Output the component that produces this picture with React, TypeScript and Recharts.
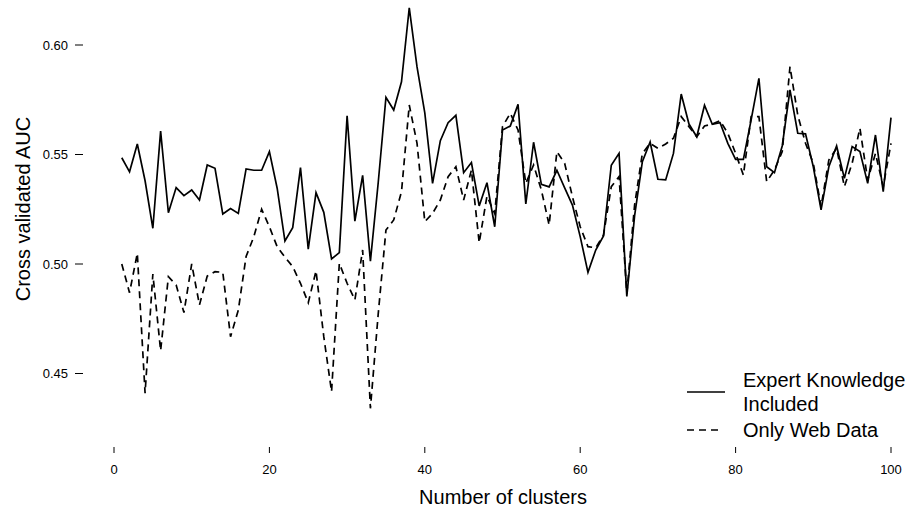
import React from 'react';
import { LineChart, Line, XAxis, YAxis, Legend, Label } from 'recharts';

const clusters = Array.from({ length: 100 }, (_, i) => i + 1);

const expertKnowledge = [
  0.5485, 0.5421, 0.5548, 0.5380, 0.5163, 0.5607, 0.5234, 0.5349, 0.5312, 0.5338,
  0.5292, 0.5452, 0.5437, 0.5228, 0.5253, 0.5231, 0.5434, 0.5428, 0.5428, 0.5513,
  0.5346, 0.5105, 0.5166, 0.5440, 0.5068, 0.5326, 0.5236, 0.5023, 0.5052, 0.5677,
  0.5196, 0.5405, 0.5013, 0.5370, 0.5761, 0.5703, 0.5832, 0.6170, 0.5900, 0.5690,
  0.5368, 0.5563, 0.5645, 0.5679, 0.5417, 0.5463, 0.5265, 0.5371, 0.5170, 0.5612,
  0.5630, 0.5729, 0.5274, 0.5556, 0.5364, 0.5352, 0.5428, 0.5348, 0.5269, 0.5125,
  0.4962, 0.5064, 0.5128, 0.5451, 0.5505, 0.4852, 0.5220, 0.5467, 0.5557, 0.5387,
  0.5384, 0.5505, 0.5776, 0.5639, 0.5581, 0.5725, 0.5638, 0.5645, 0.5551, 0.5478,
  0.5478, 0.5658, 0.5848, 0.5444, 0.5417, 0.5539, 0.5795, 0.5597, 0.5594, 0.5444,
  0.5247, 0.5444, 0.5539, 0.5391, 0.5536, 0.5513, 0.5368, 0.5589, 0.5330, 0.5668,
];

const onlyWebData = [
  0.5000, 0.4869, 0.5049, 0.4410, 0.4954, 0.4604, 0.4942, 0.4904, 0.4778, 0.5000,
  0.4813, 0.4945, 0.4965, 0.4962, 0.4668, 0.4790, 0.5034, 0.5125, 0.5250, 0.5170,
  0.5079, 0.5031, 0.4988, 0.4912, 0.4823, 0.4969, 0.4668, 0.4417, 0.5003, 0.4912,
  0.4836, 0.5064, 0.4341, 0.4770, 0.5155, 0.5201, 0.5330, 0.5726, 0.5551, 0.5193,
  0.5231, 0.5292, 0.5399, 0.5444, 0.5292, 0.5429, 0.5097, 0.5310, 0.5230, 0.5627,
  0.5688, 0.5612, 0.5368, 0.5452, 0.5338, 0.5178, 0.5513, 0.5460, 0.5307, 0.5170,
  0.5079, 0.5074, 0.5132, 0.5353, 0.5399, 0.4866, 0.5269, 0.5505, 0.5551, 0.5528,
  0.5548, 0.5574, 0.5673, 0.5627, 0.5581, 0.5630, 0.5639, 0.5654, 0.5597, 0.5505,
  0.5406, 0.5673, 0.5673, 0.5376, 0.5429, 0.5513, 0.5901, 0.5680, 0.5551, 0.5460,
  0.5262, 0.5475, 0.5528, 0.5353, 0.5460, 0.5620, 0.5384, 0.5505, 0.5353, 0.5551,
];

const xTicks = [0, 20, 40, 60, 80, 100];
const yTicks = [0.45, 0.5, 0.55, 0.6];

const data = clusters.map((k, i) => ({
  k,
  expert: expertKnowledge[i],
  web: onlyWebData[i],
}));

const FONT = '"Liberation Sans", Arial, Helvetica, sans-serif';

// R-style detached ticks: short mark, label below/left of it
const XTick = ({ x, payload }: any) => (
  <g>
    <line x1={x} x2={x} y1={447} y2={453} stroke="#000" strokeWidth={1} />
    <text x={x} y={469} textAnchor="middle" dominantBaseline="central" fontSize={13} fontFamily={FONT} fill="#000">
      {payload.value}
    </text>
  </g>
);

const YTick = ({ y, payload }: any) => (
  <g>
    <line x1={75} x2={83} y1={y} y2={y} stroke="#000" strokeWidth={1} />
    <text x={68} y={y} textAnchor="end" dominantBaseline="central" fontSize={13} fontFamily={FONT} fill="#000">
      {Number(payload.value).toFixed(2)}
    </text>
  </g>
);

const LegendBox = () => (
  <svg width={228} height={80} style={{ display: 'block', overflow: 'visible' }}>
    <line x1={7} x2={45} y1={27} y2={27} stroke="#000" strokeWidth={1.7} />
    <text x={63} y={15} dominantBaseline="central" fontSize={20} fontFamily={FONT} fill="#000">
      Expert Knowledge
    </text>
    <text x={63} y={39} dominantBaseline="central" fontSize={20} fontFamily={FONT} fill="#000">
      Included
    </text>
    <line x1={7} x2={38} y1={65} y2={65} stroke="#000" strokeWidth={1.7} strokeDasharray="7 5" />
    <text x={63} y={65} dominantBaseline="central" fontSize={20} fontFamily={FONT} fill="#000">
      Only Web Data
    </text>
  </svg>
);

export default function App() {
  return (
    <div style={{ position: 'absolute', left: 0, top: 0, width: 908, height: 509, background: '#fff' }}>
      <LineChart
        width={908}
        height={509}
        data={data}
        margin={{ top: 1.2, right: 9.23, left: 10.69, bottom: 39.8 }}
      >
        <XAxis
          dataKey="k"
          type="number"
          domain={[-3, 101]}
          ticks={xTicks}
          allowDataOverflow
          axisLine={false}
          tickLine={false}
          height={30}
          tick={<XTick />}
        >
          <Label
            content={() => (
              <text x={503} y={497} textAnchor="middle" dominantBaseline="central" fontSize={20} fontFamily={FONT} fill="#000">
                Number of clusters
              </text>
            )}
          />
        </XAxis>
        <YAxis
          type="number"
          domain={[0.42, 0.62]}
          ticks={yTicks}
          allowDataOverflow
          axisLine={false}
          tickLine={false}
          width={80}
          tick={<YTick />}
        >
          <Label
            content={() => (
              <text
                x={23}
                y={209}
                transform="rotate(-90 23 209)"
                textAnchor="middle"
                dominantBaseline="central"
                fontSize={20}
                fontFamily={FONT}
                fill="#000"
              >
                Cross validated AUC
              </text>
            )}
          />
        </YAxis>
        <Legend
          layout="horizontal"
          verticalAlign="middle"
          align="center"
          wrapperStyle={{ left: 680, top: 365, width: 228, height: 80 }}
          content={() => <LegendBox />}
        />
        <Line
          dataKey="expert"
          name="Expert Knowledge Included"
          stroke="#000"
          strokeWidth={1.7}
          dot={false}
          activeDot={false}
          isAnimationActive={false}
        />
        <Line
          dataKey="web"
          name="Only Web Data"
          stroke="#000"
          strokeWidth={1.7}
          strokeDasharray="7 5"
          dot={false}
          activeDot={false}
          isAnimationActive={false}
        />
      </LineChart>
    </div>
  );
}
